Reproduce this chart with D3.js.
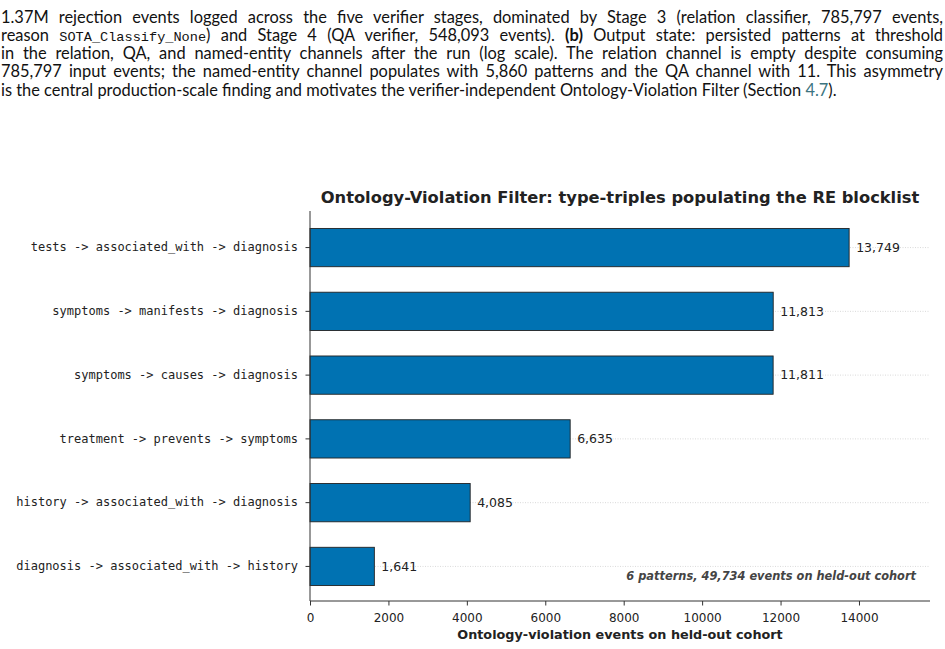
<!DOCTYPE html>
<html>
<head>
<meta charset="utf-8">
<script src="https://cdn.jsdelivr.net/npm/d3@7"></script>
<style>
  body { margin: 0; background: #fff; width: 945px; height: 649px; overflow: hidden; position: relative; }
  #caption { position: absolute; left: 1px; top: 7.5px; width: 942px; font-family: Lato, "Open Sans", sans-serif; font-size: 16.4px; color: #111; }
  #caption .ln { height: 18.3px; line-height: 18.3px; white-space: nowrap; text-align: justify; text-align-last: justify; }
  #caption .ln.last { text-align-last: left; }
  #caption code { display: inline-block; font-family: "Liberation Mono", "DejaVu Sans Mono", monospace; font-size: 13.6px; line-height: 13px; height: 13px; }
  #caption .ref { color: #3b7480; }
  svg { position: absolute; left: 0; top: 0; }
</style>
</head>
<body>
<div id="caption">
  <div class="ln">1.37M rejection events logged across the five verifier stages, dominated by Stage 3 (relation classifier, 785,797 events,</div>
  <div class="ln">reason <code>SOTA_Classify_None</code>) and Stage 4 (QA verifier, 548,093 events). <b>(b)</b> Output state: persisted patterns at threshold</div>
  <div class="ln">in the relation, QA, and named-entity channels after the run (log scale). The relation channel is empty despite consuming</div>
  <div class="ln">785,797 input events; the named-entity channel populates with 5,860 patterns and the QA channel with 11. This asymmetry</div>
  <div class="ln last">is the central production-scale finding and motivates the verifier-independent Ontology-Violation Filter (Section <span class="ref">4.7</span>).</div>
</div>
<svg id="chart"></svg>
<script>
// type-triples and their event counts on the held-out cohort
const triples = [
  'tests -> associated_with -> diagnosis',
  'symptoms -> manifests -> diagnosis',
  'symptoms -> causes -> diagnosis',
  'treatment -> prevents -> symptoms',
  'history -> associated_with -> diagnosis',
  'diagnosis -> associated_with -> history'
];
const events = [13749, 11813, 11811, 6635, 4085, 1641];
const xTicks = [0, 2000, 4000, 6000, 8000, 10000, 12000, 14000];

const title = 'Ontology-Violation Filter: type-triples populating the RE blocklist';
const xLabel = 'Ontology-violation events on held-out cohort';

const W = 945, H = 649;
const margin = { top: 211, right: 15, bottom: 48, left: 310 };
const width = W - margin.left - margin.right;
const height = H - margin.top - margin.bottom;

const data = triples.map((name, i) => ({ name, value: events[i] }));
const total = d3.sum(events);

const svg = d3.select('#chart')
  .attr('width', W)
  .attr('height', H)
  .append('g')
  .attr('transform', `translate(${margin.left},${margin.top})`);

const x = d3.scaleLinear()
  .domain([0, d3.max(events) * 1.15])
  .range([0, width]);

const y = d3.scaleBand()
  .domain(triples)
  .range([1.5, height + 0.5])
  .paddingInner(0.4)
  .paddingOuter(0.25);

// dotted guide lines at each bar
svg.selectAll('.guide')
  .data(data)
  .enter()
  .append('line')
  .attr('class', 'guide')
  .attr('x1', 0)
  .attr('x2', width)
  .attr('y1', d => y(d.name) + y.bandwidth() / 2)
  .attr('y2', d => y(d.name) + y.bandwidth() / 2)
  .attr('stroke', '#d0d0d0')
  .attr('stroke-width', 0.8)
  .attr('stroke-dasharray', '1,1.5');

svg.selectAll('.bar')
  .data(data)
  .enter()
  .append('rect')
  .attr('class', 'bar')
  .attr('x', 0)
  .attr('y', d => y(d.name))
  .attr('width', d => x(d.value))
  .attr('height', y.bandwidth())
  .attr('fill', '#0072b2')
  .attr('stroke', '#222')
  .attr('stroke-width', 0.9);

svg.selectAll('.val')
  .data(data)
  .enter()
  .append('text')
  .attr('class', 'val')
  .attr('x', d => x(d.value) + 7)
  .attr('y', d => y(d.name) + y.bandwidth() / 2)
  .attr('dy', '0.35em')
  .attr('font-family', 'DejaVu Sans')
  .attr('font-size', 12.5)
  .attr('fill', '#222')
  .text(d => d3.format(',')(d.value));

// axes
const xAxis = svg.append('g')
  .attr('transform', `translate(0,${height})`)
  .call(d3.axisBottom(x).tickValues(xTicks).tickFormat(d3.format('d')).tickSize(4.5).tickPadding(7.5));

const yAxis = svg.append('g')
  .call(d3.axisLeft(y).tickSize(4.5).tickPadding(7.5));

[xAxis, yAxis].forEach(a => {
  a.select('.domain').attr('stroke', '#333').attr('stroke-width', 1);
  a.selectAll('.tick line').attr('stroke', '#333');
  a.selectAll('.tick text').attr('fill', '#222').attr('font-size', 12);
});
xAxis.selectAll('.tick text').attr('font-family', 'DejaVu Sans');
yAxis.selectAll('.tick text').attr('font-family', 'DejaVu Sans Mono');
// matplotlib-style spine: straight line without end caps
xAxis.select('.domain').attr('d', `M0,0H${width}`);
yAxis.select('.domain').attr('d', `M0,0V${height}`);

svg.append('text')
  .attr('x', width / 2)
  .attr('y', -8)
  .attr('text-anchor', 'middle')
  .attr('font-family', 'DejaVu Sans')
  .attr('font-weight', 'bold')
  .attr('font-size', 16.3)
  .attr('fill', '#222')
  .text(title);

svg.append('text')
  .attr('x', width / 2)
  .attr('y', height + 38)
  .attr('text-anchor', 'middle')
  .attr('font-family', 'DejaVu Sans')
  .attr('font-weight', 'bold')
  .attr('font-size', 12.8)
  .attr('fill', '#222')
  .text(xLabel);

svg.append('text')
  .attr('x', width - 14)
  .attr('y', y(triples[5]) + y.bandwidth() / 2 + 14)
  .attr('text-anchor', 'end')
  .attr('font-family', 'DejaVu Sans')
  .attr('font-weight', 'bold')
  .attr('font-style', 'italic')
  .attr('font-size', 11.4)
  .attr('fill', '#444')
  .text(`${triples.length} patterns, ${d3.format(',')(total)} events on held-out cohort`);
</script>
</body>
</html>
